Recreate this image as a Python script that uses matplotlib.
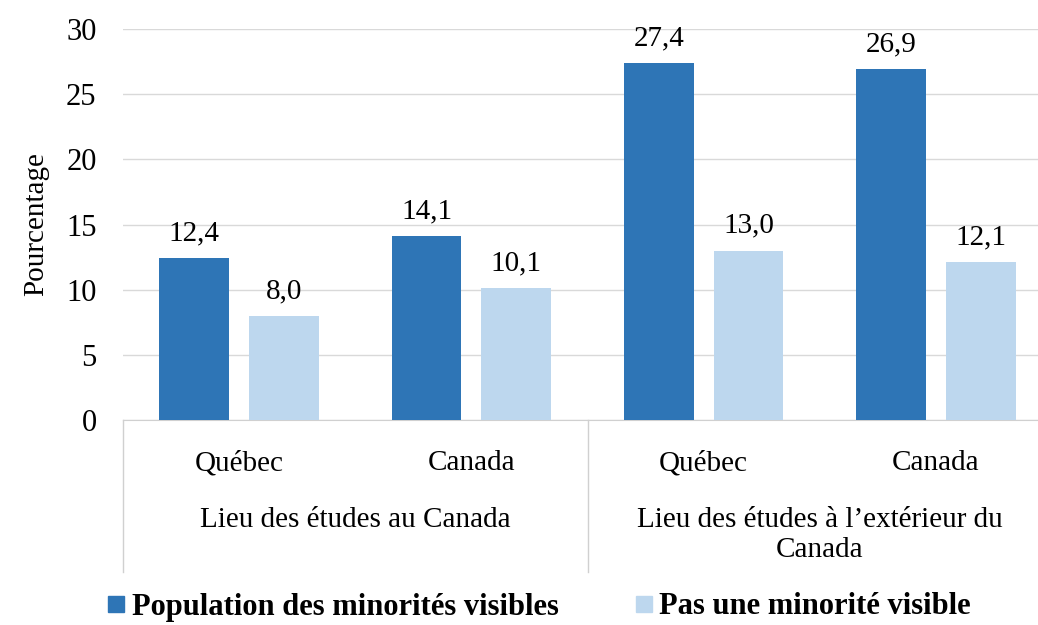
import matplotlib.pyplot as plt
from matplotlib.lines import Line2D
import numpy as np

plt.rcParams['font.family'] = ['Liberation Serif', 'DejaVu Serif']

# Data
places = ["Québec", "Canada", "Québec", "Canada"]
groups = ["Lieu des études au Canada", "Lieu des études à l\u2019extérieur du\nCanada"]
series_names = ["Population des minorités visibles", "Pas une minorité visible"]
minorites = [12.4, 14.1, 27.4, 26.9]
pas_minorite = [8.0, 10.1, 13.0, 12.1]
colors = ["#2E75B6", "#BDD7EE"]

fig = plt.figure(figsize=(10.38, 6.25), dpi=100)
ax = fig.add_axes([123 / 1038, 1 - 420 / 625, 929 / 1038, 391 / 625])

x = np.arange(len(places))
w = 0.30
off = 0.193
ax.bar(x - off, minorites, w, color=colors[0], zorder=3)
ax.bar(x + off, pas_minorite, w, color=colors[1], zorder=3)

fs = 21
for xi, v in zip(x, minorites):
    ax.text(xi - off, v + 0.9, f"{v:.1f}".replace(".", ","), ha="center", va="bottom", fontsize=fs)
for xi, v in zip(x, pas_minorite):
    ax.text(xi + off, v + 0.9, f"{v:.1f}".replace(".", ","), ha="center", va="bottom", fontsize=fs)

ax.set_ylim(0, 30)
ax.set_xlim(-0.5, 3.5)
ax.set_yticks(range(0, 31, 5))
ax.tick_params(axis="y", length=0, labelsize=22, pad=19)
ax.set_xticks([])
ax.yaxis.grid(True, color="#d9d9d9", linewidth=1)
ax.set_axisbelow(True)
for s in ["top", "right", "left"]:
    ax.spines[s].set_visible(False)
ax.spines["bottom"].set_color("#d0d0d0")
ax.set_ylabel("Pourcentage", fontsize=fs, labelpad=12)

# two-level category axis
trans = ax.get_xaxis_transform()
for xi, lab in zip(x, places):
    ax.text(xi, -0.11, lab, transform=trans, ha="center", va="center", fontsize=fs)
ax.text(0.5, -0.255, groups[0], transform=trans, ha="center", va="center", fontsize=fs)
ax.text(2.5, -0.222, groups[1], transform=trans, ha="center", va="top",
        fontsize=fs, linespacing=1.2)
for xs in [-0.5, 1.5, 3.5]:
    ax.plot([xs, xs], [0, -0.39], transform=trans, color="#d0d0d0", lw=1, clip_on=False)

handles = [Line2D([], [], marker="s", linestyle="none", markersize=12,
                  markerfacecolor=c, markeredgecolor=c) for c in colors]
fig.legend(handles, series_names, loc="center", bbox_to_anchor=(0.518, 1 - 607 / 625),
           ncol=2, frameon=False, prop={"weight": "bold", "size": 22},
           handletextpad=0.1, columnspacing=2.4, handlelength=0.8)

fig.savefig("out.png", dpi=100)
